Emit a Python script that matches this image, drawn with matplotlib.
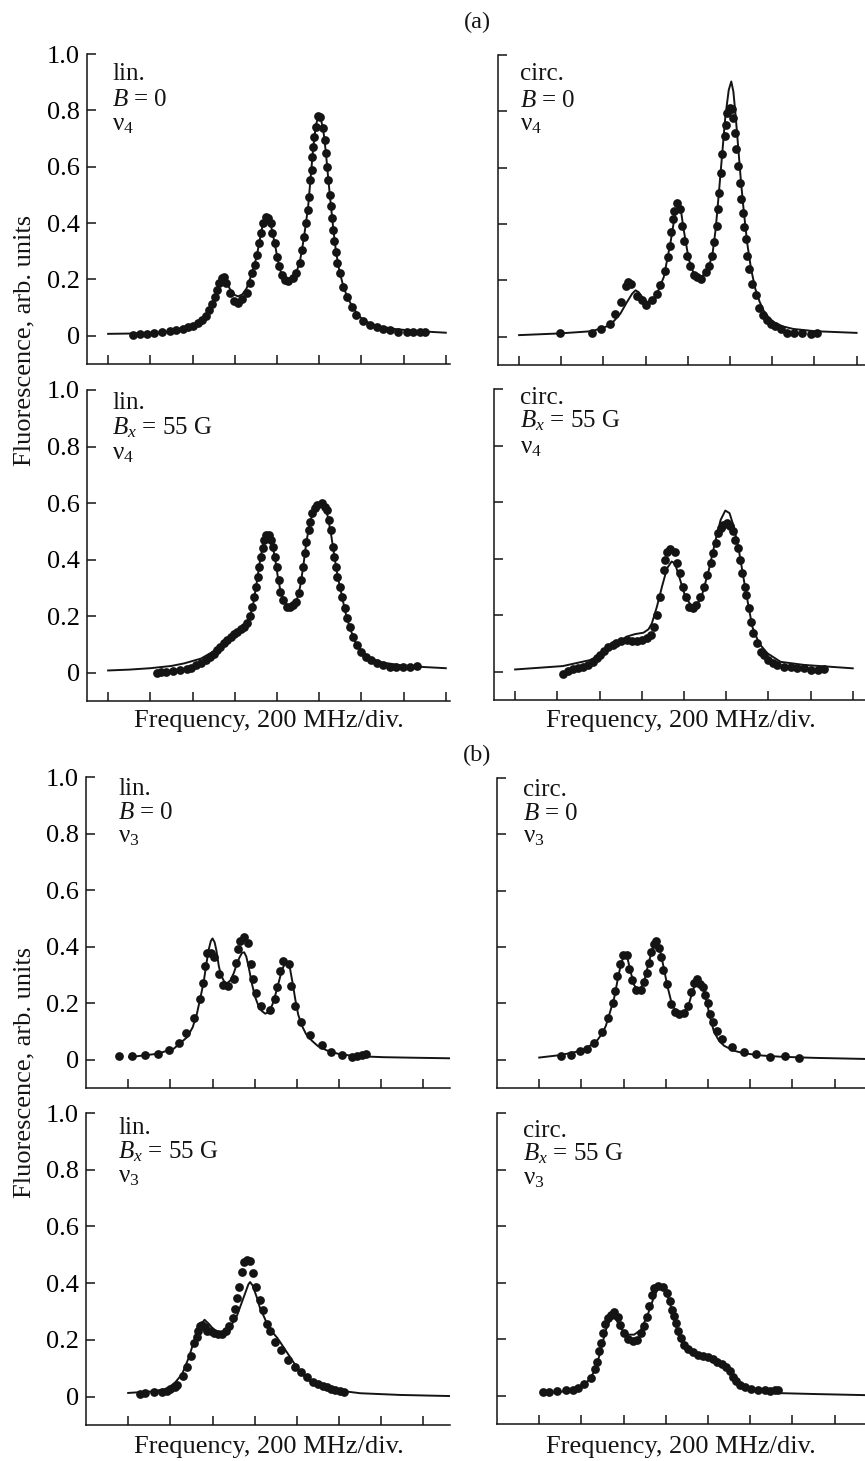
import matplotlib
matplotlib.use("Agg")
import matplotlib.pyplot as plt

plt.rcParams['font.family'] = ['Liberation Serif', 'DejaVu Serif']
plt.rcParams['mathtext.fontset'] = 'custom'
plt.rcParams['mathtext.rm'] = 'Liberation Serif'
plt.rcParams['mathtext.it'] = 'Liberation Serif:italic'
plt.rcParams['mathtext.bf'] = 'Liberation Serif:bold'

# ---------------- data (x in divisions of 200 MHz, y in arb. units) ----------------
y_ticks = [0, 0.2, 0.4, 0.6, 0.8, 1.0]
y_tick_labels = ['0', '0.2', '0.4', '0.6', '0.8', '1.0']
x_ticks_a = [0, 1, 2, 3, 4, 5, 6, 7, 8]
x_ticks_b = [0.5, 1.5, 2.5, 3.5, 4.5, 5.5, 6.5, 7.5]

# (a) lin., B = 0, nu4
a_lin_b0_pts = [(0.59,0.004),(0.75,0.006),(0.91,0.008),(1.08,0.009),(1.28,0.013),(1.46,0.017),(1.62,0.019),(1.78,0.024),(1.90,0.030),(2.01,0.035),(2.13,0.045),(2.23,0.057),(2.31,0.071),(2.39,0.092),(2.46,0.113),(2.53,0.139),(2.58,0.163),(2.63,0.187),(2.69,0.204),(2.74,0.208),(2.80,0.187),(2.88,0.151),(2.98,0.125),(3.08,0.118),(3.18,0.130),(3.28,0.151),(3.36,0.187),(3.42,0.222),(3.48,0.252),(3.53,0.287),(3.58,0.329),(3.62,0.364),(3.67,0.400),(3.73,0.421),(3.79,0.417),(3.85,0.400),(3.89,0.364),(3.95,0.329),(4.00,0.281),(4.05,0.246),(4.11,0.216),(4.19,0.199),(4.27,0.193),(4.37,0.204),(4.46,0.222),(4.54,0.258),(4.60,0.305),(4.64,0.352),(4.70,0.400),(4.74,0.447),(4.76,0.494),(4.79,0.553),(4.82,0.589),(4.84,0.636),(4.86,0.671),(4.88,0.707),(4.92,0.742),(4.98,0.780),(5.03,0.775),(5.08,0.736),(5.13,0.695),(5.16,0.648),(5.19,0.600),(5.21,0.553),(5.25,0.500),(5.28,0.459),(5.31,0.417),(5.33,0.376),(5.36,0.335),(5.39,0.299),(5.43,0.258),(5.49,0.222),(5.57,0.175),(5.65,0.139),(5.77,0.104),(5.88,0.074),(6.04,0.054),(6.20,0.039),(6.36,0.030),(6.52,0.024),(6.67,0.019),(6.87,0.015),(7.07,0.015),(7.23,0.014),(7.39,0.015),(7.50,0.015)]
a_lin_b0_fit = [(0.0,0.007),(0.5,0.008),(1.0,0.010),(1.5,0.016),(1.8,0.023),(2.0,0.033),(2.15,0.047),(2.3,0.070),(2.4,0.092),(2.5,0.125),(2.6,0.170),(2.67,0.198),(2.72,0.207),(2.77,0.203),(2.83,0.183),(2.9,0.162),(3.0,0.145),(3.08,0.140),(3.18,0.147),(3.28,0.168),(3.38,0.210),(3.46,0.248),(3.52,0.282),(3.58,0.330),(3.65,0.385),(3.70,0.412),(3.75,0.420),(3.80,0.413),(3.86,0.390),(3.91,0.355),(3.97,0.310),(4.03,0.262),(4.10,0.222),(4.18,0.200),(4.26,0.193),(4.35,0.200),(4.45,0.222),(4.54,0.260),(4.62,0.330),(4.68,0.392),(4.74,0.460),(4.80,0.565),(4.86,0.668),(4.92,0.745),(4.98,0.780),(5.04,0.770),(5.10,0.728),(5.16,0.650),(5.22,0.550),(5.28,0.460),(5.34,0.372),(5.40,0.298),(5.48,0.230),(5.57,0.177),(5.67,0.136),(5.80,0.100),(5.95,0.069),(6.10,0.051),(6.40,0.034),(6.80,0.024),(7.30,0.017),(8.00,0.011)]

# (a) circ., B = 0, nu4
a_circ_b0_pts = [(0.96,0.012),(1.73,0.015),(1.94,0.027),(2.15,0.047),(2.28,0.080),(2.41,0.124),(2.53,0.180),(2.59,0.194),(2.66,0.188),(2.79,0.145),(2.91,0.129),(3.02,0.114),(3.15,0.129),(3.27,0.153),(3.35,0.185),(3.45,0.235),(3.52,0.282),(3.57,0.324),(3.60,0.371),(3.65,0.418),(3.68,0.447),(3.75,0.474),(3.81,0.453),(3.86,0.394),(3.92,0.341),(3.98,0.288),(4.05,0.251),(4.14,0.220),(4.22,0.212),(4.32,0.206),(4.42,0.229),(4.50,0.253),(4.58,0.288),(4.63,0.335),(4.68,0.394),(4.72,0.453),(4.75,0.512),(4.79,0.582),(4.82,0.647),(4.87,0.712),(4.90,0.753),(4.93,0.794),(4.99,0.812),(5.05,0.808),(5.08,0.776),(5.11,0.724),(5.15,0.665),(5.19,0.606),(5.23,0.547),(5.26,0.488),(5.30,0.441),(5.33,0.388),(5.37,0.347),(5.41,0.288),(5.46,0.241),(5.53,0.188),(5.61,0.147),(5.68,0.102),(5.78,0.076),(5.87,0.059),(5.96,0.047),(6.06,0.039),(6.20,0.029),(6.36,0.015),(6.52,0.014),(6.71,0.012),(6.93,0.009),(7.07,0.012)]
a_circ_b0_fit = [(0.0,0.006),(0.96,0.012),(1.73,0.020),(2.16,0.041),(2.40,0.082),(2.56,0.124),(2.68,0.153),(2.76,0.165),(2.83,0.159),(2.95,0.135),(3.03,0.124),(3.15,0.129),(3.27,0.153),(3.43,0.212),(3.59,0.335),(3.71,0.447),(3.78,0.471),(3.82,0.465),(3.90,0.382),(4.02,0.276),(4.14,0.224),(4.30,0.208),(4.46,0.235),(4.58,0.288),(4.66,0.382),(4.73,0.500),(4.81,0.641),(4.89,0.782),(4.97,0.876),(5.03,0.906),(5.08,0.870),(5.13,0.790),(5.19,0.680),(5.26,0.550),(5.33,0.440),(5.41,0.330),(5.50,0.240),(5.60,0.170),(5.70,0.125),(5.80,0.092),(5.92,0.068),(6.04,0.052),(6.25,0.037),(6.50,0.028),(7.00,0.020),(8.00,0.014)]

# (a) lin., Bx = 55 G, nu4
a_lin_bx_pts = [(1.15,0.000),(1.26,0.001),(1.38,0.002),(1.54,0.005),(1.70,0.009),(1.86,0.012),(1.97,0.015),(2.09,0.027),(2.21,0.035),(2.31,0.045),(2.41,0.057),(2.50,0.068),(2.58,0.080),(2.66,0.092),(2.74,0.104),(2.82,0.116),(2.90,0.127),(2.98,0.137),(3.06,0.145),(3.14,0.153),(3.21,0.163),(3.29,0.175),(3.36,0.200),(3.40,0.233),(3.45,0.269),(3.50,0.304),(3.54,0.340),(3.58,0.375),(3.62,0.410),(3.66,0.440),(3.70,0.469),(3.75,0.487),(3.82,0.487),(3.87,0.469),(3.91,0.446),(3.95,0.410),(3.99,0.375),(4.04,0.328),(4.08,0.287),(4.15,0.257),(4.23,0.233),(4.30,0.231),(4.38,0.239),(4.46,0.251),(4.53,0.281),(4.58,0.328),(4.62,0.375),(4.66,0.422),(4.70,0.463),(4.75,0.505),(4.79,0.534),(4.84,0.564),(4.89,0.581),(4.95,0.593),(5.06,0.599),(5.13,0.587),(5.19,0.575),(5.24,0.540),(5.28,0.505),(5.32,0.446),(5.36,0.410),(5.39,0.375),(5.43,0.340),(5.49,0.304),(5.55,0.269),(5.61,0.228),(5.66,0.192),(5.73,0.163),(5.81,0.127),(5.90,0.098),(6.00,0.074),(6.12,0.057),(6.24,0.045),(6.36,0.035),(6.52,0.027),(6.67,0.019),(6.83,0.019),(6.99,0.019),(7.15,0.021),(7.31,0.025)]
a_lin_bx_fit = [(0.0,0.008),(0.5,0.011),(1.0,0.016),(1.5,0.024),(1.8,0.033),(2.2,0.050),(2.49,0.075),(2.75,0.102),(2.96,0.130),(3.15,0.150),(3.28,0.172),(3.36,0.198),(3.44,0.245),(3.52,0.318),(3.59,0.388),(3.66,0.445),(3.72,0.478),(3.78,0.487),(3.84,0.480),(3.90,0.447),(3.96,0.400),(4.02,0.340),(4.08,0.292),(4.16,0.255),(4.25,0.235),(4.32,0.232),(4.40,0.240),(4.48,0.262),(4.55,0.305),(4.62,0.372),(4.70,0.465),(4.78,0.530),(4.86,0.572),(4.95,0.595),(5.04,0.600),(5.12,0.588),(5.20,0.555),(5.28,0.492),(5.36,0.412),(5.44,0.340),(5.52,0.285),(5.62,0.215),(5.72,0.162),(5.85,0.110),(6.00,0.077),(6.20,0.052),(6.50,0.036),(7.00,0.025),(7.50,0.020),(8.00,0.016)]

# (a) circ., Bx = 55 G, nu4
a_circ_bx_pts = [(1.13,-0.008),(1.25,0.004),(1.37,0.008),(1.49,0.012),(1.61,0.018),(1.73,0.024),(1.85,0.035),(1.94,0.047),(2.02,0.059),(2.10,0.074),(2.21,0.086),(2.31,0.094),(2.40,0.103),(2.52,0.110),(2.64,0.112),(2.76,0.110),(2.88,0.110),(3.00,0.112),(3.12,0.118),(3.21,0.130),(3.29,0.159),(3.36,0.201),(3.44,0.266),(3.52,0.360),(3.56,0.396),(3.61,0.425),(3.67,0.433),(3.78,0.425),(3.83,0.384),(3.90,0.348),(3.98,0.301),(4.06,0.263),(4.13,0.230),(4.21,0.224),(4.29,0.236),(4.37,0.263),(4.47,0.301),(4.55,0.342),(4.63,0.384),(4.69,0.419),(4.75,0.455),(4.80,0.490),(4.87,0.508),(4.93,0.519),(5.01,0.525),(5.09,0.514),(5.17,0.496),(5.22,0.466),(5.28,0.437),(5.33,0.396),(5.38,0.348),(5.44,0.301),(5.48,0.272),(5.54,0.224),(5.60,0.177),(5.64,0.136),(5.72,0.100),(5.82,0.071),(5.90,0.059),(5.99,0.041),(6.10,0.030),(6.21,0.024),(6.37,0.018),(6.53,0.015),(6.69,0.012),(6.85,0.012),(7.01,0.006),(7.17,0.006),(7.33,0.008)]
a_circ_bx_fit = [(0.0,0.008),(1.13,0.020),(1.77,0.041),(2.09,0.065),(2.40,0.100),(2.64,0.124),(2.84,0.133),(3.04,0.138),(3.16,0.150),(3.24,0.171),(3.36,0.230),(3.48,0.301),(3.60,0.366),(3.71,0.390),(3.79,0.382),(3.91,0.325),(4.03,0.266),(4.19,0.230),(4.31,0.236),(4.43,0.272),(4.59,0.360),(4.75,0.466),(4.87,0.537),(4.98,0.570),(5.08,0.561),(5.18,0.514),(5.30,0.431),(5.46,0.289),(5.62,0.159),(5.78,0.100),(5.98,0.065),(6.29,0.035),(6.85,0.024),(8.00,0.012)]

# (b) lin., B = 0, nu3
b_lin_b0_pts = [(0.29,0.013),(0.58,0.012),(0.91,0.015),(1.20,0.021),(1.47,0.035),(1.71,0.059),(1.88,0.095),(2.07,0.148),(2.20,0.216),(2.27,0.273),(2.33,0.332),(2.38,0.376),(2.46,0.378),(2.54,0.364),(2.65,0.303),(2.74,0.266),(2.86,0.260),(3.00,0.287),(3.05,0.343),(3.10,0.390),(3.14,0.421),(3.25,0.433),(3.33,0.414),(3.41,0.337),(3.46,0.287),(3.54,0.236),(3.65,0.189),(3.87,0.175),(3.97,0.216),(4.04,0.258),(4.10,0.314),(4.18,0.350),(4.31,0.340),(4.36,0.260),(4.46,0.189),(4.60,0.134),(4.81,0.086),(5.09,0.051),(5.32,0.027),(5.56,0.015),(5.80,0.009),(5.92,0.012),(6.04,0.018),(6.15,0.019)]
b_lin_b0_fit = [(0.52,0.009),(1.19,0.021),(1.58,0.039),(1.90,0.080),(2.03,0.115),(2.13,0.163),(2.22,0.225),(2.29,0.275),(2.36,0.345),(2.41,0.390),(2.46,0.420),(2.50,0.429),(2.55,0.415),(2.59,0.388),(2.65,0.330),(2.70,0.300),(2.77,0.278),(2.84,0.270),(2.92,0.280),(3.00,0.305),(3.08,0.340),(3.14,0.362),(3.20,0.378),(3.25,0.380),(3.30,0.365),(3.36,0.325),(3.44,0.265),(3.51,0.222),(3.59,0.190),(3.67,0.172),(3.75,0.163),(3.83,0.168),(3.92,0.195),(4.00,0.235),(4.08,0.280),(4.15,0.320),(4.22,0.340),(4.28,0.340),(4.34,0.320),(4.40,0.270),(4.46,0.215),(4.53,0.160),(4.62,0.120),(4.72,0.090),(4.85,0.068),(5.00,0.048),(5.21,0.033),(5.50,0.020),(5.76,0.015),(6.20,0.011),(6.55,0.009),(7.30,0.007),(8.15,0.005)]

# (b) circ., B = 0, nu3
b_circ_b0_pts = [(1.01,0.014),(1.25,0.018),(1.47,0.030),(1.63,0.040),(1.80,0.058),(1.98,0.097),(2.13,0.147),(2.24,0.200),(2.30,0.245),(2.35,0.299),(2.42,0.340),(2.49,0.373),(2.58,0.373),(2.63,0.322),(2.69,0.283),(2.79,0.248),(2.91,0.248),(2.99,0.275),(3.05,0.307),(3.11,0.342),(3.16,0.382),(3.21,0.411),(3.27,0.421),(3.34,0.396),(3.38,0.364),(3.44,0.319),(3.54,0.269),(3.63,0.198),(3.72,0.171),(3.81,0.162),(3.93,0.165),(4.03,0.192),(4.09,0.239),(4.17,0.271),(4.23,0.287),(4.31,0.269),(4.37,0.257),(4.42,0.231),(4.49,0.200),(4.54,0.162),(4.61,0.135),(4.71,0.103),(4.84,0.073),(5.08,0.046),(5.35,0.028),(5.63,0.020),(5.97,0.011),(6.32,0.014),(6.66,0.008)]
b_circ_b0_fit = [(0.50,0.008),(1.01,0.017),(1.49,0.032),(1.84,0.062),(2.00,0.095),(2.08,0.121),(2.18,0.170),(2.28,0.222),(2.36,0.285),(2.43,0.335),(2.50,0.368),(2.55,0.373),(2.60,0.355),(2.67,0.310),(2.75,0.265),(2.83,0.250),(2.91,0.255),(2.99,0.280),(3.07,0.330),(3.14,0.370),(3.21,0.405),(3.26,0.418),(3.31,0.410),(3.38,0.378),(3.46,0.320),(3.54,0.260),(3.64,0.200),(3.74,0.172),(3.82,0.163),(3.89,0.162),(3.97,0.175),(4.05,0.200),(4.13,0.240),(4.21,0.275),(4.27,0.285),(4.33,0.278),(4.40,0.250),(4.47,0.205),(4.55,0.150),(4.64,0.100),(4.76,0.068),(4.88,0.050),(5.10,0.033),(5.35,0.023),(5.80,0.015),(6.22,0.011),(7.00,0.007),(8.25,0.003)]

# (b) lin., Bx = 55 G, nu3
b_lin_bx_pts = [(0.78,0.009),(0.91,0.012),(1.12,0.015),(1.30,0.018),(1.42,0.021),(1.50,0.027),(1.60,0.035),(1.66,0.042),(1.80,0.074),(1.90,0.106),(1.99,0.145),(2.07,0.189),(2.12,0.210),(2.16,0.231),(2.21,0.248),(2.26,0.254),(2.32,0.245),(2.38,0.233),(2.46,0.231),(2.54,0.224),(2.64,0.222),(2.73,0.222),(2.81,0.231),(2.89,0.248),(2.98,0.278),(3.03,0.309),(3.08,0.349),(3.13,0.387),(3.20,0.440),(3.25,0.475),(3.32,0.481),(3.39,0.479),(3.47,0.436),(3.52,0.387),(3.62,0.340),(3.69,0.307),(3.79,0.257),(3.87,0.231),(3.99,0.192),(4.13,0.165),(4.28,0.130),(4.46,0.104),(4.59,0.088),(4.74,0.068),(4.89,0.051),(5.01,0.045),(5.11,0.039),(5.21,0.033),(5.30,0.027),(5.41,0.024),(5.52,0.019),(5.62,0.015)]
b_lin_bx_fit = [(0.50,0.013),(1.03,0.018),(1.42,0.027),(1.62,0.051),(1.78,0.080),(1.94,0.139),(2.09,0.210),(2.21,0.251),(2.31,0.271),(2.41,0.257),(2.53,0.236),(2.68,0.224),(2.80,0.228),(2.92,0.245),(3.08,0.286),(3.24,0.351),(3.35,0.396),(3.39,0.404),(3.45,0.392),(3.55,0.350),(3.63,0.310),(3.71,0.285),(3.79,0.258),(3.87,0.239),(3.95,0.222),(4.03,0.208),(4.10,0.193),(4.18,0.175),(4.26,0.157),(4.34,0.139),(4.42,0.121),(4.50,0.104),(4.58,0.088),(4.66,0.074),(4.74,0.063),(4.81,0.054),(4.97,0.042),(5.21,0.030),(5.52,0.021),(6.00,0.012),(6.94,0.006),(8.15,0.002)]

# (b) circ., Bx = 55 G, nu3
b_circ_bx_pts = [(0.58,0.012),(0.74,0.013),(0.92,0.018),(1.13,0.019),(1.31,0.021),(1.41,0.027),(1.57,0.041),(1.73,0.063),(1.82,0.094),(1.88,0.121),(1.92,0.157),(1.96,0.186),(2.00,0.222),(2.06,0.254),(2.12,0.275),(2.19,0.287),(2.28,0.295),(2.36,0.278),(2.42,0.251),(2.50,0.222),(2.60,0.200),(2.72,0.192),(2.82,0.196),(2.91,0.222),(2.99,0.245),(3.06,0.278),(3.11,0.316),(3.17,0.357),(3.23,0.381),(3.31,0.387),(3.43,0.384),(3.53,0.363),(3.59,0.334),(3.64,0.304),(3.69,0.283),(3.74,0.257),(3.80,0.228),(3.86,0.204),(3.93,0.180),(4.02,0.165),(4.14,0.153),(4.26,0.145),(4.38,0.142),(4.50,0.137),(4.61,0.130),(4.72,0.121),(4.83,0.113),(4.93,0.101),(5.01,0.086),(5.09,0.068),(5.17,0.051),(5.25,0.039),(5.37,0.031),(5.52,0.024),(5.68,0.021),(5.84,0.019),(5.96,0.018),(6.08,0.019),(6.17,0.019)]
b_circ_bx_fit = [(0.54,0.009),(1.09,0.015),(1.41,0.026),(1.65,0.051),(1.81,0.086),(1.92,0.139),(2.00,0.186),(2.08,0.233),(2.16,0.263),(2.24,0.275),(2.32,0.271),(2.44,0.236),(2.60,0.216),(2.75,0.216),(2.91,0.233),(3.07,0.286),(3.19,0.337),(3.31,0.379),(3.40,0.391),(3.48,0.382),(3.59,0.332),(3.70,0.267),(3.82,0.208),(3.94,0.173),(4.10,0.156),(4.34,0.144),(4.57,0.133),(4.73,0.121),(4.89,0.106),(5.05,0.080),(5.21,0.051),(5.37,0.033),(5.52,0.024),(5.84,0.015),(6.24,0.009),(7.03,0.006),(8.25,0.002)]

# ---------------- layout ----------------
W, H = 865, 1461
fig = plt.figure(figsize=(W / 100, H / 100), dpi=100)
fig.patch.set_facecolor('white')

def rect(l, t, r, b):
    return [l / W, 1 - b / H, (r - l) / W, (b - t) / H]

INK = '#141414'
panels = [
    dict(r=(87, 54, 450, 364), xr=8.1, xt=x_ticks_a, yl=True, tx=0.069, ty=(0.916, 0.832, 0.755),
         lines=['lin.', r'$B$ = 0', r'$\mathrm{\nu}_4$'], pts=a_lin_b0_pts, fit=a_lin_b0_fit),
    dict(r=(498, 55, 865, 365), xr=8.2, xt=x_ticks_a, yl=False, tx=0.060, ty=(0.920, 0.833, 0.756),
         lines=['circ.', r'$B$ = 0', r'$\mathrm{\nu}_4$'], pts=a_circ_b0_pts, fit=a_circ_b0_fit),
    dict(r=(87, 390, 450, 701), xr=8.1, xt=x_ticks_a, yl=True, tx=0.069, ty=(0.939, 0.858, 0.778),
         lines=['lin.', r'$B_x$ = 55 G', r'$\mathrm{\nu}_4$'], pts=a_lin_bx_pts, fit=a_lin_bx_fit),
    dict(r=(494, 389, 865, 700), xr=8.29, xt=x_ticks_a, yl=False, tx=0.070, ty=(0.952, 0.875, 0.794),
         lines=['circ.', r'$B_x$ = 55 G', r'$\mathrm{\nu}_4$'], pts=a_circ_bx_pts, fit=a_circ_bx_fit),
    dict(r=(86, 777, 450, 1088), xr=8.13, xt=x_ticks_b, yl=True, tx=0.088, ty=(0.942, 0.865, 0.791),
         lines=['lin.', r'$B$ = 0', r'$\mathrm{\nu}_3$'], pts=b_lin_b0_pts, fit=b_lin_b0_fit),
    dict(r=(497, 778, 865, 1088), xr=8.22, xt=x_ticks_b, yl=False, tx=0.071, ty=(0.942, 0.865, 0.791),
         lines=['circ.', r'$B$ = 0', r'$\mathrm{\nu}_3$'], pts=b_circ_b0_pts, fit=b_circ_b0_fit),
    dict(r=(86, 1113, 450, 1425), xr=8.13, xt=x_ticks_b, yl=True, tx=0.088, ty=(0.933, 0.853, 0.776),
         lines=['lin.', r'$B_x$ = 55 G', r'$\mathrm{\nu}_3$'], pts=b_lin_bx_pts, fit=b_lin_bx_fit),
    dict(r=(497, 1113, 865, 1424), xr=8.22, xt=x_ticks_b, yl=False, tx=0.071, ty=(0.923, 0.849, 0.772),
         lines=['circ.', r'$B_x$ = 55 G', r'$\mathrm{\nu}_3$'], pts=b_circ_bx_pts, fit=b_circ_bx_fit),
]

for p in panels:
    ax = fig.add_axes(rect(*p['r']))
    ax.set_xlim(-0.5, p['xr'])
    ax.set_ylim(-0.1, 1.0)
    fx, fy = zip(*p['fit'])
    ax.plot(fx, fy, '-', color=INK, lw=1.4, zorder=2, solid_joinstyle='round')
    px, py = zip(*p['pts'])
    ax.plot(px, py, 'o', color=INK, ms=6.3, mec='none', zorder=3, clip_on=False)
    ax.set_xticks(p['xt'])
    ax.set_yticks(y_ticks)
    ax.set_yticklabels(y_tick_labels)
    for s in ('top', 'right'):
        ax.spines[s].set_visible(False)
    for s in ('left', 'bottom'):
        ax.spines[s].set_linewidth(1.1)
        ax.spines[s].set_color(INK)
    ax.tick_params(direction='in', length=6.5, width=1.1, color=INK, labelsize=19, pad=5,
                   labelbottom=False, labelleft=p['yl'])
    for y, s in zip(p['ty'], p['lines']):
        ax.text(p['tx'], y, s, transform=ax.transAxes, fontsize=18, ha='left', va='baseline', color=INK)

# axis titles and panel labels
for yc in (340, 1072):
    fig.text(24 / W, 1 - yc / H, 'Fluorescence, arb. units', rotation=90, ha='center', va='center',
             fontsize=19, color=INK)
for yb in (727, 1453):
    fig.text(268.5 / W, 1 - yb / H, 'Frequency, 200 MHz/div.', ha='center', va='baseline', fontsize=19, color=INK)
    fig.text(681 / W, 1 - yb / H, 'Frequency, 200 MHz/div.', ha='center', va='baseline', fontsize=19, color=INK)
fig.text(477 / W, 1 - 22 / H, '(a)', ha='center', va='center', fontsize=17.5, color=INK)
fig.text(477 / W, 1 - 755 / H, '(b)', ha='center', va='center', fontsize=17.5, color=INK)

fig.savefig('out.png', dpi=100, facecolor='white')
